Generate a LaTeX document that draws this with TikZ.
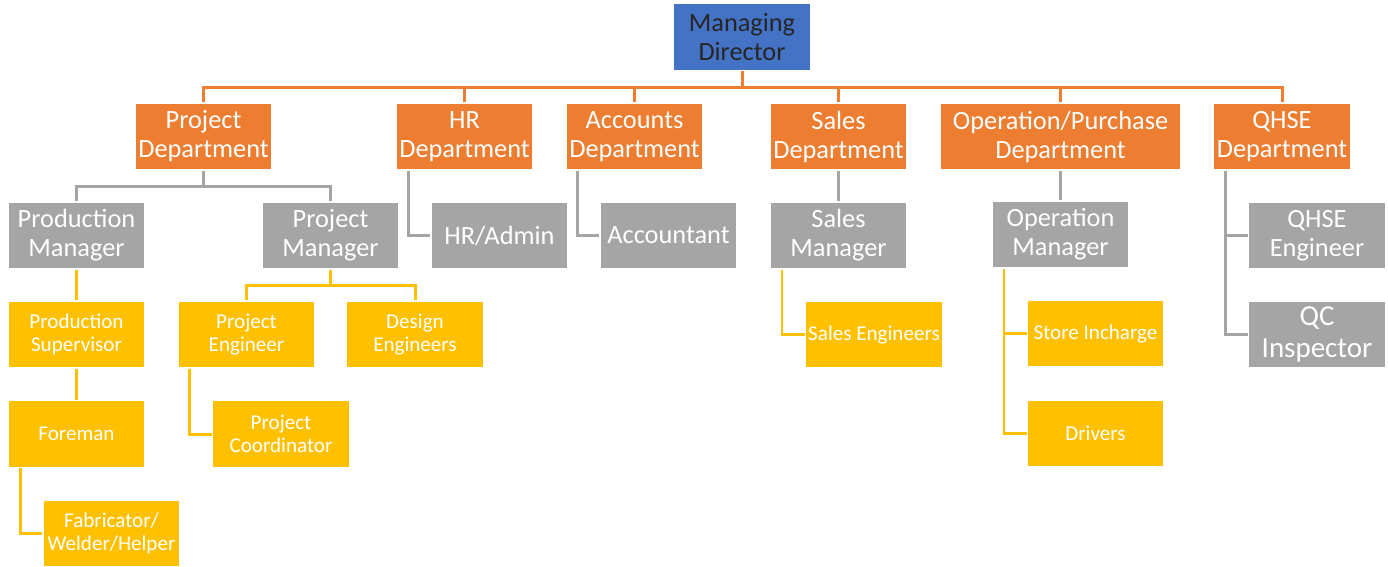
\documentclass[tikz,border=0pt]{standalone}
\usepackage{fontspec}
\setmainfont{Carlito}
\usepackage{tikz}
\usetikzlibrary{positioning}
\definecolor{mdblue}{HTML}{4472C4}
\definecolor{deptorange}{HTML}{ED7D31}
\definecolor{mgrgray}{HTML}{A5A5A5}
\definecolor{staffgold}{HTML}{FFC000}

\begin{document}
\begin{tikzpicture}[x=0.02cm, y=-0.02cm,
  box/.style={draw=white, line width=0.6pt, minimum width=2.74cm, minimum height=1.34cm, inner sep=0pt, align=center, text=white, font=\fontsize{15}{16.5}\selectfont},
  md/.style={box, fill=mdblue, text=black!85},
  dept/.style={box, fill=deptorange},
  mgr/.style={box, fill=mgrgray},
  staff/.style={box, fill=staffgold, font=\fontsize{12}{13.3}\selectfont},
  orangeline/.style={deptorange, line width=1.7pt},
  grayline/.style={mgrgray, line width=1.7pt},
  goldline/.style={staffgold, line width=1.7pt}]
\useasboundingbox (0,0) rectangle (1388,566);

\node[md] (MD) at (742,37) {Managing\\Director};

\node[dept] (D1) at (203.5,136.5) {Project\\Department};
\node[dept] (D2) at (464.5,136.5) {HR\\Department};
\node[dept] (D3) at (634.5,136.5) {Accounts\\Department};
\node[dept] (D4) at (838.5,136.5) {Sales\\Department};
\node[dept, minimum width=4.82cm] (D5) at (1060.5,136.5) {Operation/Purchase\\Department};
\node[dept] (D6) at (1282,136.5) {QHSE\\Department};

\node[mgr] (M1) at (76.5,235.5) {Production\\Manager};
\node[mgr] (M2) at (330.5,235.5) {Project\\Manager};
\node[mgr] (M3) at (499.5,235.5) {HR/Admin};
\node[mgr] (M4) at (668.5,235.5) {Accountant};
\node[mgr] (M5) at (838.5,235.5) {Sales\\Manager};
\node[mgr] (M6) at (1060.5,234.5) {Operation\\Manager};
\node[mgr] (M7) at (1317,235.5) {QHSE\\Engineer};
\node[mgr, font=\fontsize{16.5}{18.2}\selectfont] (M8) at (1317,334.5) {QC\\Inspector};

\node[staff] (S1) at (76.5,334.5) {Production\\Supervisor};
\node[staff] (S2) at (246.5,334.5) {Project\\Engineer};
\node[staff] (S3) at (415,334.5) {Design\\Engineers};
\node[staff] (S4) at (874,334.5) {Sales Engineers};
\node[staff] (S5) at (1095.5,333.5) {Store Incharge};
\node[staff] (S6) at (76.5,434) {Foreman};
\node[staff] (S7) at (281,434) {Project\\Coordinator};
\node[staff] (S8) at (1095.5,433.5) {Drivers};
\node[staff] (S9) at (111.5,533.5) {Fabricator/\\Welder/Helper};

\foreach \d in {D1,D2,D3,D4,D5,D6}
  \draw[orangeline] (MD.south) -- ++(0,16) -| (\d.north);

\foreach \m in {M1,M2}
  \draw[grayline] (D1.south) -- ++(0,16) -| (\m.north);
\draw[grayline] (D2.south west) ++(13,0) |- (M3.west);
\draw[grayline] (D3.south west) ++(12,0) |- (M4.west);
\draw[grayline] (D4) -- (M5);
\draw[grayline] (D5) -- (M6);
\draw[grayline] (D6.south west) ++(12.5,0) |- (M7.west);
\draw[grayline] (D6.south west) ++(12.5,0) |- (M8.west);

\draw[goldline] (M1) -- (S1);
\draw[goldline] (S1) -- (S6);
\draw[goldline] (S6.south west) ++(13,0) |- (S9.west);
\foreach \s in {S2,S3}
  \draw[goldline] (M2.south) -- ++(0,16) -| (\s.north);
\draw[goldline] (S2.south west) ++(12,0) |- (S7.west);
\draw[goldline] (M5.south west) ++(12.5,0) |- (S4.west);
\draw[goldline] (M6.south west) ++(12.5,0) |- (S5.west);
\draw[goldline] (M6.south west) ++(12.5,0) |- (S8.west);
\end{tikzpicture}
\end{document}
